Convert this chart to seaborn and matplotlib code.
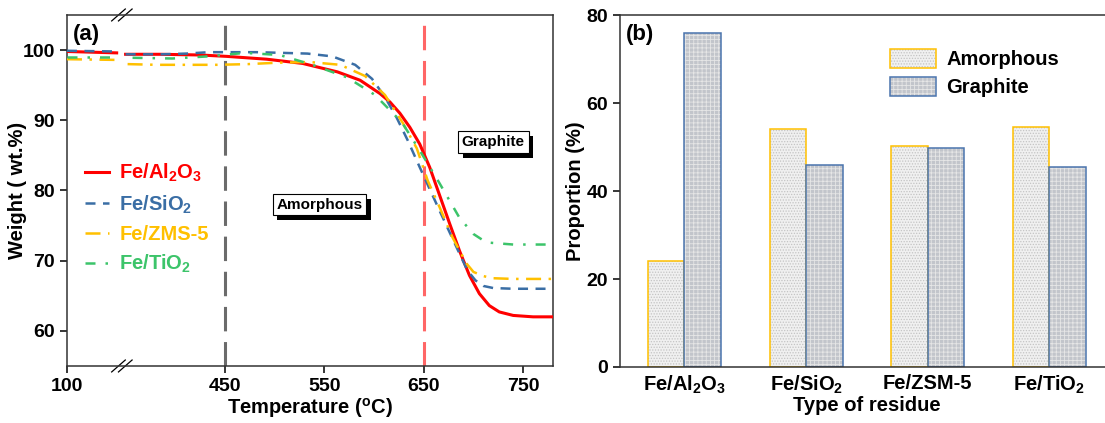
import numpy as np
import pandas as pd
import matplotlib
matplotlib.use("Agg")
import matplotlib.pyplot as plt
import matplotlib.colors as mcolors
import matplotlib.patheffects as pe
from matplotlib.patches import Patch
import seaborn as sns

# TGA curves, temperature (C) vs weight (wt.%); x axis is broken between 150 and 350 C
T_AL2O3 = [100, 150, 350, 385, 425, 452, 492, 528, 563, 586, 606, 616, 626, 636, 646, 656, 666, 676,
           686, 696, 706, 716, 726, 740, 760, 780]
W_AL2O3 = [99.8, 99.6, 99.4, 99.4, 99.3, 99.1, 98.7, 98.1, 96.9, 95.7, 93.8, 92.6, 91.0, 89.0, 86.6, 83.3,
           79.3, 75.3, 71.4, 67.9, 65.3, 63.6, 62.7, 62.2, 62.0, 62.0]

T_SIO2 = [100, 150, 350, 361, 387, 411, 434, 460, 482, 508, 533, 558, 581, 598, 611, 623, 634, 646, 666,
          686, 694, 702, 710, 720, 740, 780]
W_SIO2 = [99.9, 99.8, 99.4, 99.4, 99.4, 99.5, 99.7, 99.7, 99.7, 99.6, 99.5, 99.1, 97.9, 95.9, 93.3, 90.3,
          87.1, 83.3, 77.1, 71.0, 68.6, 67.2, 66.4, 66.1, 66.0, 66.0]

T_ZSM5 = [100, 150, 352, 382, 413, 442, 473, 503, 535, 566, 591, 611, 629, 643, 654, 666, 679, 693, 700,
          710, 720, 740, 780]
W_ZSM5 = [98.7, 98.6, 98.0, 97.9, 97.9, 97.9, 98.0, 98.2, 98.3, 97.9, 96.3, 93.6, 89.6, 86.0, 81.4, 77.6,
          73.3, 69.6, 68.4, 67.8, 67.5, 67.4, 67.4]

T_TIO2 = [100, 150, 357, 397, 433, 470, 505, 538, 573, 601, 628, 646, 666, 686, 700, 713, 740, 780]
W_TIO2 = [99.0, 99.0, 98.9, 98.8, 99.1, 99.6, 99.3, 97.9, 96.1, 93.6, 89.7, 85.7, 81.0, 76.1, 73.8, 72.6,
          72.3, 72.3]

# residue composition (b)
RESIDUES = ["Fe/Al$_2$O$_3$", "Fe/SiO$_2$", "Fe/ZSM-5", "Fe/TiO$_2$"]
AMORPHOUS = [24.0, 54.1, 50.2, 54.6]
GRAPHITE = [76.0, 45.9, 49.8, 45.4]

plt.rcParams["font.family"] = "Liberation Sans"
plt.rcParams["font.weight"] = "bold"
plt.rcParams["axes.labelweight"] = "bold"
plt.rcParams["mathtext.fontset"] = "custom"
plt.rcParams["mathtext.rm"] = "Liberation Sans:bold"
plt.rcParams["mathtext.bf"] = "Liberation Sans:bold"
plt.rcParams["mathtext.default"] = "bf"
plt.rcParams["hatch.linewidth"] = 0.6


def fwd(t):
    t = np.asarray(t, dtype=float)
    return np.where(t <= 150, t - 100, np.where(t >= 350, t - 291, 50 + (t - 150) * 9 / 200))


def inv(u):
    u = np.asarray(u, dtype=float)
    return np.where(u <= 50, u + 100, np.where(u >= 59, u + 291, 150 + (u - 50) * 200 / 9))


fig = plt.figure(figsize=(11.05, 4.23), dpi=100)
ax1 = fig.add_axes([0.0606, 0.1348, 0.4398, 0.8298])
ax2 = fig.add_axes([0.5611, 0.1324, 0.447, 0.8321])

# ---- (a) TGA ----
ax1.set_xscale("function", functions=(fwd, inv))
series = [
    ("Fe/Al$_2$O$_3$", T_AL2O3, W_AL2O3, "#ff0000", "-", 2.2),
    ("Fe/SiO$_2$", T_SIO2, W_SIO2, "#3a6ea5", (0, (4, 3)), 1.8),
    ("Fe/ZMS-5", T_ZSM5, W_ZSM5, "#ffc000", (0, (6, 3, 1, 3)), 1.8),
    ("Fe/TiO$_2$", T_TIO2, W_TIO2, "#3cc46a", (0, (4, 4, 1, 4)), 1.8),
]
ax1.axvline(450, color="#6b6b6b", lw=2.2, ls=(0, (8, 3.5)), zorder=1)
ax1.axvline(650, color="#ff6666", lw=2.2, ls=(0, (8, 3.5)), zorder=1)
for name, t, w, col, ls, lw in series:
    df = pd.DataFrame({"T": t, "W": w})
    df["seg"] = (df["T"] >= 350).astype(int)
    for seg, part in df.groupby("seg"):
        sns.lineplot(data=part, x="T", y="W", ax=ax1, color=col, linestyle=ls, lw=lw,
                     sort=False, estimator=None, label=name if seg == 1 else None, zorder=3)

ax1.set_xlim(100, 780)
ax1.set_ylim(55, 105)
ax1.set_xticks([100, 450, 550, 650, 750])
ax1.set_xticklabels(["100", "450", "550", "650", "750"])
ax1.set_yticks([60, 70, 80, 90, 100])
ax1.minorticks_off()
ax1.tick_params(labelsize=14, length=5, width=1.1, direction="out")
ax1.set_xlabel("Temperature ($^{o}$C)", fontsize=14.5, labelpad=1)
ax1.set_ylabel("Weight ( wt.%)", fontsize=14.5, labelpad=-3)
for s in ax1.spines.values():
    s.set_linewidth(1.1)
    s.set_color("#333333")

leg = ax1.legend(loc="center left", bbox_to_anchor=(0.0, 0.42), frameon=False,
                 fontsize=14.5, handlelength=1.2, handletextpad=0.5, labelspacing=0.45)
for txt, (_, _, _, col, _, _) in zip(leg.get_texts(), series):
    txt.set_color(col)

# axis-break marks
for yb in (0.0, 1.0):
    for off in (0.0, 0.014):
        ax1.plot([0.092 + off, 0.12 + off], [yb - 0.017, yb + 0.017], transform=ax1.transAxes,
                 color="black", lw=0.9, clip_on=False)

for label, tx, wy in [("Amorphous", 545, 78.0), ("Graphite", 720, 86.9)]:
    t = ax1.text(tx, wy, label, fontsize=11, ha="center", va="center", zorder=5,
                 bbox=dict(boxstyle="square,pad=0.25", fc="white", ec="black", lw=0.8))
    t.get_bbox_patch().set_path_effects([
        pe.SimplePatchShadow(offset=(3.5, -3.5), shadow_rgbFace="black", alpha=1),
        pe.Normal()])
ax1.text(0.012, 0.975, "(a)", transform=ax1.transAxes, fontsize=16, va="top", ha="left")

# ---- (b) residue composition ----
bars = pd.DataFrame({
    "residue": RESIDUES * 2,
    "phase": ["Amorphous"] * 4 + ["Graphite"] * 4,
    "prop": AMORPHOUS + GRAPHITE,
})
sns.barplot(data=bars, x="residue", y="prop", hue="phase", ax=ax2, width=0.6,
            palette=["#eeeeee", "#c4c7cc"], legend=False, saturation=1)

styles = {
    "Amorphous": dict(fc="#f0f0f0", ec="#ffc000", hatch="......", hc="#c4c4c4"),
    "Graphite": dict(fc="#c2c5cb", ec="#4a74ad", hatch="++++", hc="#e6e6e6"),
}


def style_patch(p, st):
    p.set_facecolor(st["fc"])
    p.set_edgecolor(st["ec"])
    p.set_linewidth(1.1)
    p.set_hatch(st["hatch"])
    if hasattr(p, "set_hatchcolor"):
        p.set_hatchcolor(st["hc"])
    else:
        p._hatch_color = mcolors.to_rgba(st["hc"])


for cont, phase in zip(ax2.containers, ["Amorphous", "Graphite"]):
    for p in cont:
        style_patch(p, styles[phase])

handles = []
for phase in ["Amorphous", "Graphite"]:
    h = Patch(label=phase)
    style_patch(h, styles[phase])
    handles.append(h)
ax2.legend(handles=handles, loc="upper left", bbox_to_anchor=(0.51, 0.955), frameon=False,
           fontsize=14.5, handlelength=2.3, handleheight=1.1, handletextpad=0.5, labelspacing=0.35)

ax2.set_xlim(-0.53, 3.53)
ax2.set_ylim(0, 80)
ax2.set_yticks([0, 20, 40, 60, 80])
ax2.tick_params(axis="y", labelsize=14, length=5, width=1.1)
ax2.tick_params(axis="x", labelsize=14.5, length=0, pad=5)
ax2.set_xlabel("Type of residue", fontsize=14.5, labelpad=0)
ax2.set_ylabel("Proportion (%)", fontsize=14.5, labelpad=1)
for s in ax2.spines.values():
    s.set_linewidth(1.1)
    s.set_color("#333333")
ax2.text(0.012, 0.975, "(b)", transform=ax2.transAxes, fontsize=16, va="top", ha="left")

fig.savefig("out.png", dpi=100)
